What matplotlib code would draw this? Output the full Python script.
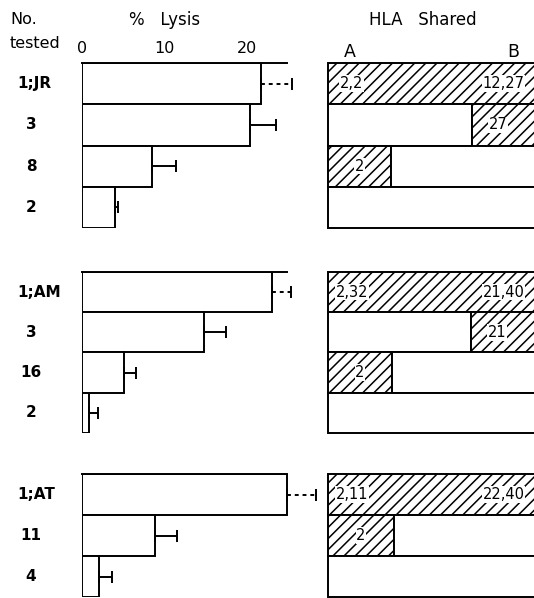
import matplotlib.pyplot as plt
from matplotlib import transforms

# --- data ---
labels_jr = ['1;JR', '3', '8', '2']
lysis_jr = [21.7, 20.4, 8.5, 4.0]
err_jr = [3.8, 3.1, 2.9, 0.4]
hla_a_jr = ['2,2', None, '2', None]
hla_b_jr = ['12,27', '27', None, None]

labels_am = ['1;AM', '3', '16', '2']
lysis_am = [23.0, 14.8, 5.1, 0.85]
err_am = [2.3, 2.7, 1.4, 1.05]
hla_a_am = ['2,32', None, '2', None]
hla_b_am = ['21,40', '21', None, None]

labels_at = ['1;AT', '11', '4']
lysis_at = [24.8, 8.8, 2.1]
err_at = [3.6, 2.7, 1.5]
hla_a_at = ['2,11', '2', None]
hla_b_at = ['22,40', None, None]

ticks = [0, 10, 20]

W, H = 534, 598
plt.rcParams['font.family'] = 'DejaVu Sans'
plt.rcParams['hatch.linewidth'] = 1.1
fig = plt.figure(figsize=(W / 100, H / 100), dpi=100)
fig.patch.set_facecolor('white')

def px_axes(x0, y0, x1, y1):
    return fig.add_axes([x0 / W, 1 - y1 / H, (x1 - x0) / W, (y1 - y0) / H])

LW = 1.4
scale = 8.25  # px per % lysis
lbl_box = dict(facecolor='white', edgecolor='none', pad=0.5)

groups = [
    (63, 228, labels_jr, lysis_jr, err_jr, hla_a_jr, hla_b_jr, 0.664, 0.29),
    (272, 433, labels_am, lysis_am, err_am, hla_a_am, hla_b_am, 0.659, 0.295),
    (474, 597, labels_at, lysis_at, err_at, hla_a_at, hla_b_at, 0.66, 0.304),
]

for g, (top, bot, labels, lysis, err, hla_a, hla_b, b_start, a_end) in enumerate(groups):
    n = len(labels)
    ys = [i + 0.5 for i in range(n)]

    # left: % lysis bars
    ax = px_axes(82, top, 326, bot)
    ax.set_xlim(0, 244 / scale)
    ax.set_ylim(n, 0)
    ax.barh(ys, lysis, height=1, left=0, color='white', edgecolor='black', linewidth=LW, zorder=2)
    for i in range(n):
        c = ax.errorbar([lysis[i]], [ys[i]], xerr=[[0], [err[i]]], fmt='none', ecolor='black',
                        elinewidth=LW, capsize=4, capthick=LW, zorder=3)
        if i == 0:
            c.lines[2][0].set_linestyle((0, (2, 2)))
    ax.plot([0, 24.8], [0, 0], color='black', lw=LW, clip_on=False, zorder=3)
    for s in ax.spines.values():
        s.set_visible(False)
    ax.set_yticks([])
    if g == 0:
        ax.set_xticks(ticks)
        ax.xaxis.tick_top()
        ax.tick_params(axis='x', length=0, pad=5, labelsize=11.5)
    else:
        ax.set_xticks([])

    tr = transforms.blended_transform_factory(fig.transFigure, ax.transData)
    for i, lab in enumerate(labels):
        if i == 0:
            fig.text(17 / W, ys[i], lab, transform=tr, ha='left', va='center',
                     fontsize=11, fontweight='bold')
        else:
            fig.text(31 / W, ys[i], lab, transform=tr, ha='center', va='center',
                     fontsize=11, fontweight='bold')

    # right: HLA shared
    ax2 = px_axes(328, top, 545, bot)
    ax2.set_xlim(0, 1)
    ax2.set_ylim(n, 0)
    ax2.axis('off')
    for i in range(n):
        a, b = hla_a[i], hla_b[i]
        if a and b:
            ax2.barh(ys[i], 1, height=1, left=0, color='white', edgecolor='black',
                     linewidth=LW, hatch='///', clip_on=False)
            ax2.text(0.11, ys[i], a, ha='center', va='center', fontsize=10.5, bbox=lbl_box)
            ax2.text(0.81, ys[i], b, ha='center', va='center', fontsize=10.5, bbox=lbl_box)
        elif b:
            ax2.barh(ys[i], b_start, height=1, left=0, color='white', edgecolor='black',
                     linewidth=LW, clip_on=False)
            ax2.barh(ys[i], 1 - b_start, height=1, left=b_start, color='white',
                     edgecolor='black', linewidth=LW, hatch='///', clip_on=False)
            ax2.text(b_start + 0.12, ys[i], b, ha='center', va='center', fontsize=10.5,
                     bbox=lbl_box)
        elif a:
            ax2.barh(ys[i], a_end, height=1, left=0, color='white', edgecolor='black',
                     linewidth=LW, hatch='///', clip_on=False)
            ax2.barh(ys[i], 1 - a_end, height=1, left=a_end, color='white',
                     edgecolor='black', linewidth=LW, clip_on=False)
            ax2.text(a_end * 0.5, ys[i], a, ha='center', va='center', fontsize=10.5,
                     bbox=lbl_box)
        else:
            ax2.barh(ys[i], 1, height=1, left=0, color='white', edgecolor='black',
                     linewidth=LW, clip_on=False)

# headings
fig.text(10 / W, 1 - 20 / H, 'No.', ha='left', va='center', fontsize=11.5)
fig.text(10 / W, 1 - 44 / H, 'tested', ha='left', va='center', fontsize=11.5)
fig.text(165 / W, 1 - 20 / H, '%   Lysis', ha='center', va='center', fontsize=12)
fig.text(423 / W, 1 - 20 / H, 'HLA   Shared', ha='center', va='center', fontsize=12)
fig.text(350 / W, 1 - 52 / H, 'A', ha='center', va='center', fontsize=12.5)
fig.text(513 / W, 1 - 52 / H, 'B', ha='center', va='center', fontsize=12.5)

fig.savefig('out.png', dpi=100, facecolor='white')
